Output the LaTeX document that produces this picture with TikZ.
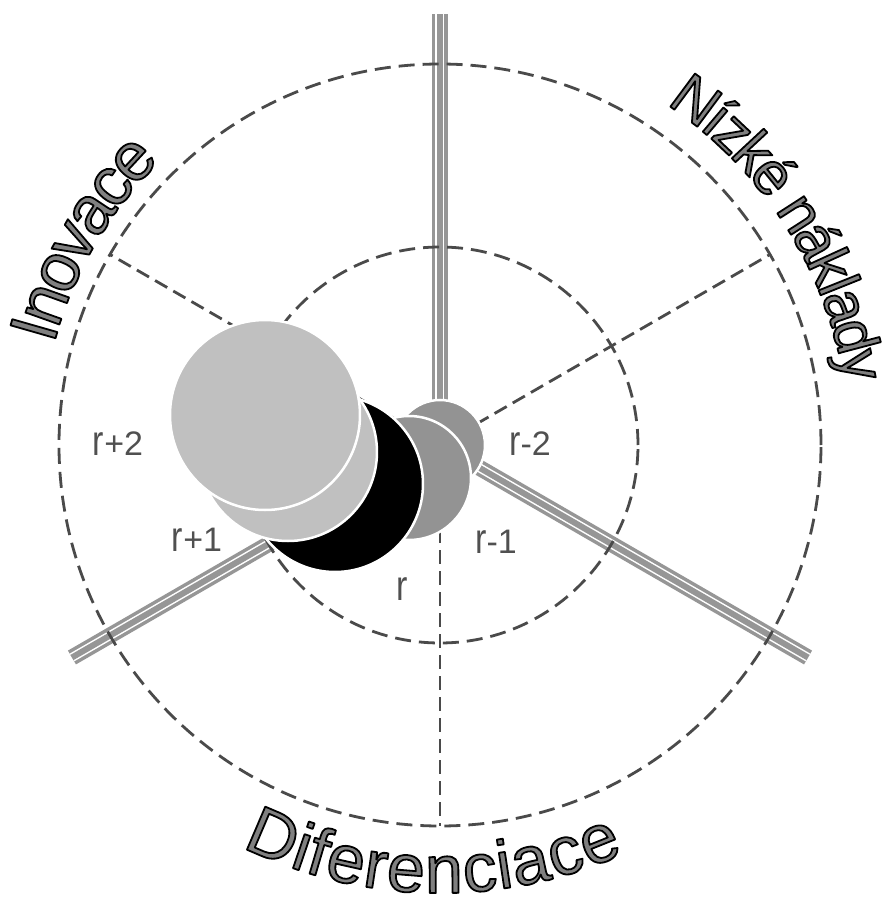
\documentclass[tikz,border=0pt]{standalone}
\usepackage{fontspec}
\setmainfont{Liberation Sans}
\usepackage{graphicx}
\definecolor{axisc}{HTML}{969696}
\definecolor{dashc}{HTML}{4A4A4A}
\definecolor{lightc}{HTML}{C0C0C0}
\definecolor{midc}{HTML}{939393}
\definecolor{lblc}{HTML}{505050}
\newdimen\acw \newdimen\acc \newdimen\actot
\newcommand\tallr{\scalebox{1}[1.25]{r}}
\newcommand\oc[1]{\special{pdf:literal direct 2 Tr 1.8 w 1 j 0.5 g 0 G}#1\special{pdf:literal direct 0 Tr 0 g 0 G}}
% #1 name, #2 centre angle, #3 direction (1 ccw, -1 cw), #4 baseline radius,
% #5 font size, #6 spacing factor, #7 list char/width(em)
\newcommand\arctext[7]{%
  \global\actot=0pt
  \foreach \ch/\w in {#7}{\pgfmathsetlength\acw{\w*#5}\global\advance\actot by \acw}%
  \global\acc=0pt
  \foreach \ch/\w [count=\i] in {#7}{%
    \pgfmathsetlength\acw{\w*#5}%
    \pgfmathsetmacro\acang{#2 + #3*deg(#6*(\acc + 0.5*\acw - 0.5*\actot)/448)}%
    \pgfmathsetmacro\acrot{\acang + 90*#3}%
    \node[bigletter=#5, rotate=\acrot] (#1-\i) at (\acang:#4pt) {\oc{\ch}};
    \global\advance\acc by \acw
  }%
}
\tikzset{
  axisgray/.style={line width=16pt, draw=axisc},
  axiswhite/.style={line width=9pt, draw=white},
  axismid/.style={line width=6pt, draw=axisc},
  dashline/.style={draw=dashc, line width=2.8pt, dash pattern=on 16pt off 8pt},
  ring/.style={circle, dashline, inner sep=0pt, outer sep=0pt, minimum size=#1},
  disk/.style={circle, draw=white, line width=2.5pt, inner sep=0pt, minimum size=#1},
  lbl/.style={font=\fontsize{34}{40}\selectfont, text=lblc, anchor=base, inner sep=0pt},
  bigletter/.style={font=\fontsize{#1}{#1}\selectfont, anchor=base, inner sep=0pt},
}
\begin{document}
\begin{tikzpicture}[x=1pt,y=1pt]
\useasboundingbox (-440,-458) rectangle (455,445);
\coordinate (O) at (0,0);
\coordinate (axN) at (90:431);
\coordinate (axR) at (-30:425);
\coordinate (axL) at (210:425);
% axes
\foreach \e in {axN,axR,axL}{
  \draw[axisgray] (O) -- (\e);
  \draw[axiswhite] (O) -- (\e);
  \draw[axismid] (O) -- (\e);
}
% dashed rings and radial lines
\node[ring=762pt] (outer) at (O) {};
\node[ring=396pt] (inner) at (O) {};
\draw[dashline, dash pattern=on 14pt off 7pt] (O) -- (outer.30);
\draw[dashline, dash pattern=on 14pt off 7pt] (O) -- (outer.150);
\draw[dashline, dash pattern=on 14pt off 7pt] (O) -- (outer.270);
% disks
\node[disk=90pt, fill=midc] (rm2) at (0,0) {};
\node[disk=124pt, fill=midc] (rm1) at (-31,-33) {};
\node[disk=176pt, fill=black] (r0) at (-105,-39) {};
\node[disk=178pt, fill=lightc] (rp1) at (-152,-7) {};
\node[disk=190pt, fill=lightc] (rp2) at (-175,30) {};
% labels
\node[lbl] (lrp2) at (-322,-10) {\tallr+2};
\node[lbl] (lrp1) at (-243,-106) {\tallr+1};
\node[lbl] (lr0) at (-38,-155) {\tallr};
\node[lbl] (lrm1) at (56,-108) {\tallr-1};
\node[lbl] (lrm2) at (90,-10) {\tallr-2};
% curved titles
\arctext{inov}{150}{-1}{399}{68}{1}{I/0.278,n/0.556,o/0.556,v/0.5,a/0.556,c/0.5,e/0.556}
\arctext{nizke}{32.5}{-1}{409}{60}{0.98}{N/0.722,í/0.278,z/0.5,k/0.5,é/0.556,~/0.278,n/0.556,á/0.556,k/0.5,l/0.222,a/0.556,d/0.556,y/0.5}
\arctext{dif}{269}{1}{448}{68}{1.05}{D/0.722,i/0.222,f/0.278,e/0.556,r/0.333,e/0.556,n/0.556,c/0.5,i/0.222,a/0.556,c/0.5,e/0.556}
\end{tikzpicture}
\end{document}
